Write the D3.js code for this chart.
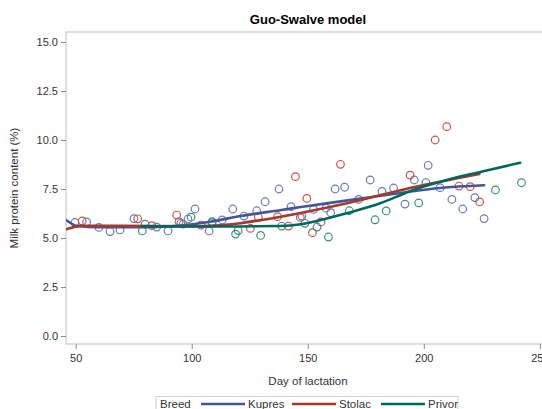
<!DOCTYPE html>
<html lang="en">
<head>
<meta charset="utf-8" />
<title>Guo-Swalve model</title>
<script src="https://cdn.jsdelivr.net/npm/d3@7"></script>
<style>
  body { margin: 0; background: white; overflow: hidden; }
  text { font-family: "Liberation Sans", Arial, sans-serif; }
</style>
</head>
<body>
<script>
var breeds = ["Kupres", "Stolac", "Privor"];
var xTicks = [50, 100, 150, 200, 250];
var yTicks = [0, 2.5, 5, 7.5, 10, 12.5, 15];

// observed points [day, protein %]
var kupresPts = [[49.7,5.79],[54.7,5.82],[60.0,5.54],[64.8,5.33],[69.1,5.41],[75.1,5.99],[79.9,5.71],
  [84.9,5.56],[89.8,5.36],[94.5,5.83],[96.3,5.71],[98.4,5.97],[101.4,6.48],[107.5,5.36],[108.8,5.78],
  [113.1,5.92],[117.7,6.48],[122.5,6.12],[128.0,6.39],[131.6,6.85],[137.6,7.50],[142.8,6.60],
  [147.5,6.12],[152.5,6.46],[157.9,6.52],[159.9,6.29],[161.8,7.50],[165.9,7.59],[171.9,6.97],
  [176.9,7.96],[182.0,7.38],[187.0,7.55],[191.9,6.73],[195.9,7.96],[201.9,8.71],[207.0,7.57],
  [212.1,6.97],[216.8,6.48],[222.0,7.06],[226.0,5.99]];
var stolacPts = [[52.8,5.87],[76.7,5.98],[82.8,5.63],[93.5,6.17],[95.3,5.75],[104.0,5.66],[125.3,5.49],
  [128.7,6.07],[137.0,6.09],[141.7,5.61],[144.7,8.13],[146.8,6.05],[149.6,7.02],[152.0,5.27],
  [155.7,5.82],[164.1,8.76],[194.1,8.21],[204.9,10.0],[209.9,10.68],[215.2,7.65],[220.0,7.62],[224.1,6.84]];
var privorPts = [[78.7,5.36],[99.7,6.06],[108.8,5.83],[118.9,5.20],[120.0,5.38],[129.7,5.13],[138.8,5.61],
  [148.8,5.75],[154.0,5.56],[158.9,5.05],[167.9,6.39],[179.0,5.93],[183.8,6.38],[197.8,6.79],
  [200.9,7.83],[230.9,7.45],[242.1,7.82]];

// fitted curves [day, protein %]
var kupresFit = [[45.8,5.92],[50.6,5.62],[60,5.55],[80,5.55],[95,5.64],[108,5.83],[121,6.12],
  [138,6.42],[147,6.58],[172,7.0],[190,7.3],[207,7.55],[226,7.69]];
var stolacFit = [[45.8,5.44],[52.6,5.62],[70,5.62],[100,5.6],[110,5.63],[120,5.74],[129,5.9],
  [147,6.28],[167,6.77],[195,7.58],[224,8.27]];
var privorFit = [[78.7,5.6],[100,5.59],[120,5.59],[138,5.61],[147,5.7],[152.4,5.83],[166.7,6.26],
  [181.2,6.77],[195.5,7.45],[209.9,7.96],[224.3,8.37],[241.5,8.84]];

var lineColors = ["#445694", "#A23A2E", "#01665E"];
var markColors = ["#6b79b9", "#c5564c", "#3a8f7b"];

var w = 542, h = 409;
var pad = { left: 66, right: 550, top: 32, bottom: 344 };

var svg = d3.select("body").append("svg")
  .attr("width", w).attr("height", h);

var x = d3.scaleLinear().domain([50, 250]).range([75.7, 539.8]);
var y = d3.scaleLinear().domain([0, 15]).range([336, 42]);

svg.append("defs").append("clipPath").attr("id", "plotclip")
  .append("rect")
  .attr("x", pad.left).attr("y", pad.top)
  .attr("width", pad.right - pad.left).attr("height", pad.bottom - pad.top);

// frame
svg.append("rect")
  .attr("x", pad.left).attr("y", pad.top)
  .attr("width", pad.right - pad.left).attr("height", pad.bottom - pad.top)
  .attr("fill", "none").attr("stroke", "#bdbdbd").attr("stroke-width", 1);

// axes
var yAxis = svg.append("g")
  .attr("transform", "translate(" + pad.left + ",0)")
  .call(d3.axisLeft(y).tickValues(yTicks).tickFormat(d3.format(".1f")).tickSize(5).tickPadding(3));
var xAxis = svg.append("g")
  .attr("transform", "translate(0," + pad.bottom + ")")
  .call(d3.axisBottom(x).tickValues(xTicks).tickSize(5).tickPadding(5));
[xAxis, yAxis].forEach(function(g) {
  g.select(".domain").remove();
  g.selectAll("line").attr("stroke", "#8c8c8c");
  g.selectAll("text").attr("fill", "#333").attr("font-size", "11px")
    .attr("font-family", "'Liberation Sans', Arial, sans-serif");
});

// titles
svg.append("text")
  .attr("x", 308).attr("y", 24)
  .attr("text-anchor", "middle")
  .attr("font-size", "13px").attr("font-weight", "bold").attr("fill", "#000")
  .text("Guo-Swalve model");
svg.append("text")
  .attr("x", 308).attr("y", 385)
  .attr("text-anchor", "middle")
  .attr("font-size", "11.5px").attr("fill", "#333")
  .text("Day of lactation");
svg.append("text")
  .attr("transform", "translate(18,188) rotate(-90)")
  .attr("text-anchor", "middle")
  .attr("font-size", "11.5px").attr("fill", "#333")
  .text("Milk protein content (%)");

var plot = svg.append("g").attr("clip-path", "url(#plotclip)");
var pts = [kupresPts, stolacPts, privorPts];
var fits = [kupresFit, stolacFit, privorFit];

pts.forEach(function(p, i) {
  plot.append("g").selectAll("circle")
    .data(p).enter().append("circle")
    .attr("cx", function(d) { return x(d[0]); })
    .attr("cy", function(d) { return y(d[1]); })
    .attr("r", 3.8)
    .attr("fill", "none")
    .attr("stroke", markColors[i])
    .attr("stroke-width", 1.2);
});

var line = d3.line()
  .x(function(d) { return x(d[0]); })
  .y(function(d) { return y(d[1]); })
  .curve(d3.curveMonotoneX);

fits.forEach(function(f, i) {
  plot.append("path")
    .datum(f)
    .attr("d", line)
    .attr("fill", "none")
    .attr("stroke", lineColors[i])
    .attr("stroke-width", 2.6)
    .attr("stroke-linecap", "round");
});

// legend
var lg = svg.append("g");
lg.append("rect")
  .attr("x", 156).attr("y", 396.5)
  .attr("width", 302).attr("height", 20)
  .attr("fill", "none").attr("stroke", "#cfcfcf");
lg.append("text").attr("x", 160).attr("y", 408)
  .attr("font-size", "11.5px").attr("fill", "#333").text("Breed");
var legX = [201, 292, 381];
breeds.forEach(function(b, i) {
  lg.append("line")
    .attr("x1", legX[i]).attr("x2", legX[i] + 44)
    .attr("y1", 404).attr("y2", 404)
    .attr("stroke", lineColors[i]).attr("stroke-width", 2.6);
  lg.append("text").attr("x", legX[i] + 47).attr("y", 408)
    .attr("font-size", "11.5px").attr("fill", "#333").text(b);
});
</script>
</body>
</html>
